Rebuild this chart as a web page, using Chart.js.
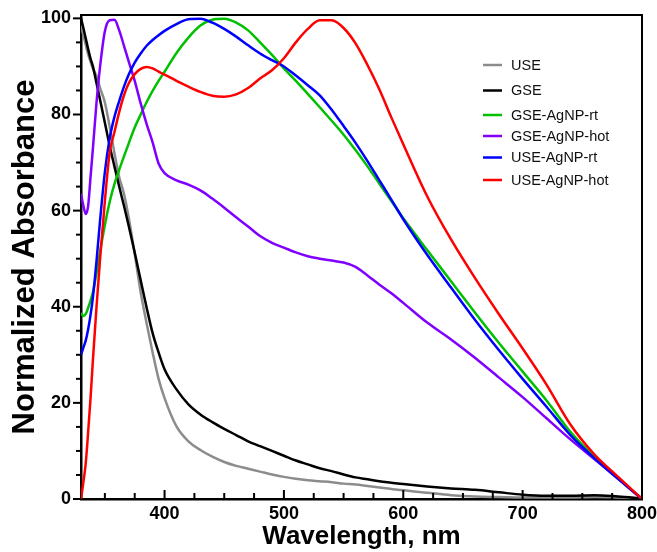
<!DOCTYPE html>
<html>
<head>
<meta charset="utf-8">
<script src="https://cdn.jsdelivr.net/npm/chart.js@4.4.0/dist/chart.umd.min.js"></script>
<style>
html,body{margin:0;padding:0;background:#fff;}
#wrap{width:657px;height:552px;position:relative;}
</style>
</head>
<body>
<div id="wrap"><canvas id="c" width="657" height="552"></canvas></div>
<script>
// ---------- DATA ----------
const wavelengthNm = [330,332,334,336,338,340,343,346,350,354,358,362,366,370,375,380,385,390,395,400,410,420,430,440,450,460,470,480,490,500,510,520,530,540,550,560,570,580,590,600,620,640,660,680,700,720,740,760,780,800];

const seriesUSE = [98.5,96.5,94.5,92.5,91,89.5,88,85.5,82.5,77.5,72,67,63.5,58.5,51,43,36.5,30.5,25,21,15.1,12,10.2,8.8,7.7,6.9,6.3,5.7,5.1,4.6,4.2,3.9,3.7,3.5,3.2,3.0,2.7,2.4,2.1,1.8,1.3,0.8,0.5,0.4,0.3,0.3,0.3,0.4,0.3,0.1];

const seriesGSE = [100,98,95.8,93.6,91.6,90,86.5,83,78.3,73.5,69.2,65,61,56.8,51.3,45.5,39.8,34.5,30.5,27,22.8,19.7,17.6,16,14.6,13.3,12,11,10,9,8,7.2,6.4,5.8,5.1,4.5,4.1,3.7,3.4,3.1,2.6,2.2,1.9,1.4,0.9,0.7,0.7,0.8,0.5,0.1];

const seriesGSEAgNPrt = [38.7,38.1,38.5,39.8,41.3,43,47,51.5,57,61.8,65.5,68.5,71.3,74,77.3,80,82.6,84.9,87,88.9,92.8,96,98.5,99.7,99.9,99.1,97.5,95,92.4,89.6,87,84.3,81.5,78.7,75.8,72.6,69.2,65.6,62,58.4,51.8,45.3,38.8,32.5,26.5,20.5,14,8.8,4.3,0];

const seriesGSEAgNPhot = [63.5,61,59.3,61,67,73,82.5,90,97.3,99.6,99.7,97.5,94.3,91,87,82.3,78,74.2,69.8,67.8,66.3,65.4,64.2,62.5,60.6,58.6,56.7,54.7,53.3,52.3,51.3,50.5,50,49.6,49.2,48.3,46.5,44.6,42.8,40.8,36.7,33.2,29.4,25.3,21.2,16.8,12.4,8.3,4.2,0];

const seriesUSEAgNPrt = [30,31.5,33,35.3,38.3,42,49.5,58,68,75,79.5,82.8,85.8,88.3,90.8,92.7,94.3,95.5,96.5,97.4,98.8,99.8,99.9,99.1,97.8,96.2,94.4,92.7,91.3,90,88.1,86.1,84,81,77.6,74.1,70.3,66.3,62.3,58.2,50.8,44,37.3,31,25,19.2,13.3,8.5,4.2,0];

const seriesUSEAgNPhot = [0,3.5,7.5,14,21,29,40,50,62,72,76.3,80.5,84,86.5,88.4,89.5,89.9,89.6,88.9,88.3,87,85.8,84.7,83.9,83.7,84.2,85.5,87.5,89.2,91.7,95,97.8,99.6,99.6,98,94.8,90.3,85.2,79.4,73.8,63,54,46,38.5,31.3,23.8,15.5,9.3,4.6,0];

const seriesLabels = ['USE','GSE','GSE-AgNP-rt','GSE-AgNP-hot','USE-AgNP-rt','USE-AgNP-hot'];
const seriesValues = [seriesUSE, seriesGSE, seriesGSEAgNPrt, seriesGSEAgNPhot, seriesUSEAgNPrt, seriesUSEAgNPhot];

const xMajorTicks = [400,500,600,700,800];
const yMajorTicks = [0,20,40,60,80,100];
const xTitle = 'Wavelength, nm';
const yTitle = 'Normalized Absorbance';

// ---------- STYLE ----------
const seriesColors = ['#8c8c8c','#000000','#00c000','#8000ff','#0000ff','#ff0000'];
const legendRowY = [65, 90.5, 115, 136, 157.5, 180];
const FONT = "'Liberation Sans', Arial, sans-serif";

const datasets = seriesLabels.map((lab, i) => ({
  label: lab,
  data: wavelengthNm.map((w, k) => ({x: w, y: seriesValues[i][k]})),
  borderColor: seriesColors[i],
  backgroundColor: seriesColors[i],
  borderWidth: 2.5,
  pointRadius: 0,
  fill: false,
  cubicInterpolationMode: 'monotone',
  order: seriesLabels.length - i
}));

const frameAndTicks = {
  id: 'frameAndTicks',
  afterDraw(chart) {
    const {ctx, chartArea: a, scales: {x, y}} = chart;
    ctx.save();
    ctx.strokeStyle = '#000';
    ctx.lineWidth = 2;
    ctx.beginPath();
    ctx.moveTo(a.left, a.top);
    ctx.lineTo(a.right, a.top);
    ctx.lineTo(a.right, a.bottom);
    ctx.stroke();
    // x ticks (inward)
    ctx.lineWidth = 2;
    for (let v = 350; v <= 800; v += 25) {
      const px = x.getPixelForValue(v);
      const major = xMajorTicks.includes(v);
      ctx.beginPath();
      ctx.moveTo(px, a.bottom);
      ctx.lineTo(px, a.bottom - (major ? 9 : 6));
      ctx.stroke();
    }
    // y ticks (outward)
    for (let v = 0; v <= 100; v += 5) {
      const py = y.getPixelForValue(v);
      const major = yMajorTicks.includes(v);
      ctx.beginPath();
      ctx.moveTo(a.left, py);
      ctx.lineTo(a.left - (major ? 8 : 5), py);
      ctx.stroke();
    }
    // legend
    ctx.font = "14.5px " + FONT;
    ctx.textBaseline = 'middle';
    ctx.textAlign = 'left';
    chart.data.datasets.forEach((ds, i) => {
      const ry = legendRowY[i];
      ctx.strokeStyle = ds.borderColor;
      ctx.lineWidth = 2.5;
      ctx.beginPath();
      ctx.moveTo(483, ry);
      ctx.lineTo(502, ry);
      ctx.stroke();
      ctx.fillStyle = '#111';
      ctx.fillText(ds.label, 511, ry + 0.5);
    });
    ctx.restore();
  }
};

new Chart(document.getElementById('c'), {
  type: 'line',
  data: {datasets},
  options: {
    responsive: false,
    animation: false,
    devicePixelRatio: 1,
    layout: {padding: {left: 0, top: 15, right: 15, bottom: 0}},
    plugins: {legend: {display: false}, tooltip: {enabled: false}},
    scales: {
      x: {
        type: 'linear',
        min: 330, max: 800,
        afterFit: s => { s.height = 53; s.paddingLeft = 0; s.paddingRight = 0; },
        afterBuildTicks: s => { s.ticks = xMajorTicks.map(v => ({value: v})); },
        grid: {display: true, drawOnChartArea: false, drawTicks: false},
        border: {display: true, color: '#000', width: 2.5},
        ticks: {color: '#000', padding: 4, maxRotation: 0, font: {family: FONT, weight: 'bold', size: 18}},
        title: {display: true, text: xTitle, color: '#000', padding: {top: 0, bottom: 0}, font: {family: FONT, weight: 'bold', size: 26}}
      },
      y: {
        type: 'linear',
        min: 0, max: 100.7,
        afterFit: s => { s.width = 81; s.paddingTop = 0; s.paddingBottom = 0; },
        afterBuildTicks: s => { s.ticks = yMajorTicks.map(v => ({value: v})); },
        grid: {display: true, drawOnChartArea: false, drawTicks: false},
        border: {display: true, color: '#000', width: 2.5},
        ticks: {color: '#000', padding: 10, font: {family: FONT, weight: 'bold', size: 18}},
        title: {display: true, text: yTitle, color: '#000', padding: {top: 7, bottom: 0}, font: {family: FONT, weight: 'bold', size: 31}}
      }
    }
  },
  plugins: [frameAndTicks]
});
</script>
</body>
</html>
